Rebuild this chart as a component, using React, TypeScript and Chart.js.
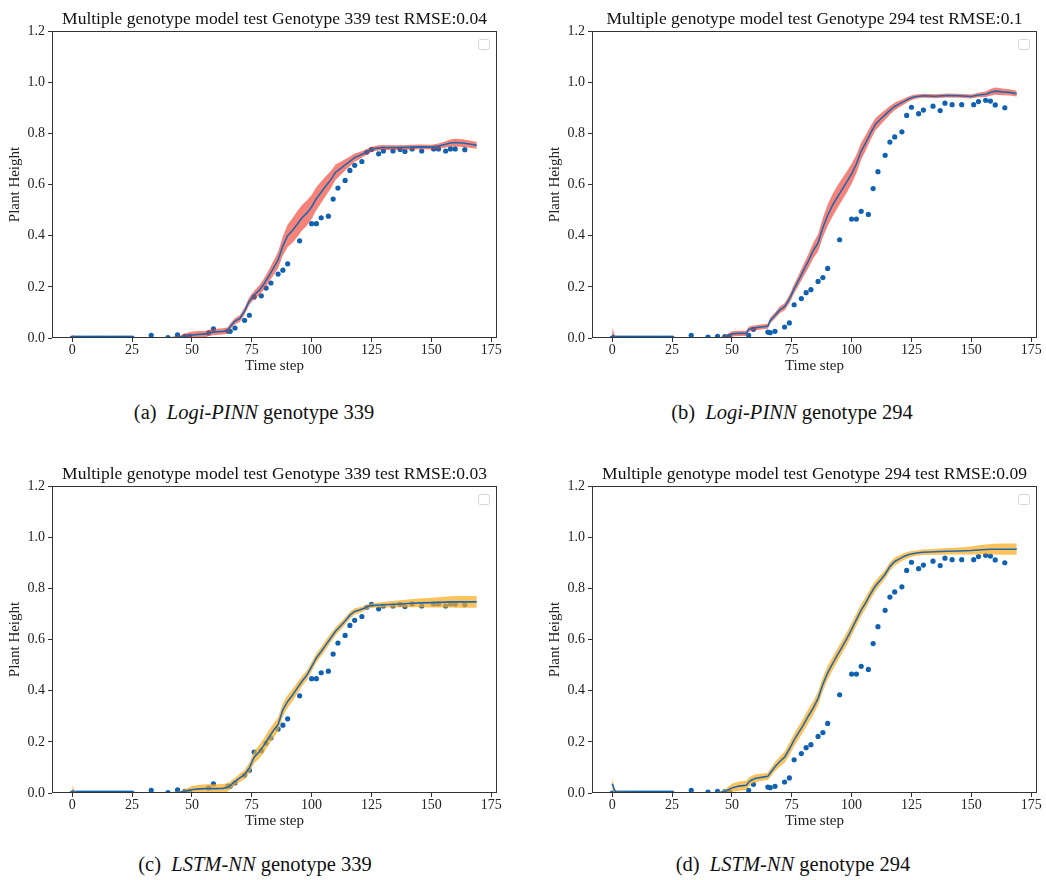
import React, { useEffect, useRef } from 'react';
import { Chart, registerables } from 'chart.js';

Chart.register(...registerables);
Chart.defaults.font.family = '"Liberation Serif", "Times New Roman", serif';
Chart.defaults.color = '#222';

// ---------- axis ticks ----------
const X_TICKS = [0, 25, 50, 75, 100, 125, 150, 175];
const Y_TICKS = [0, 0.2, 0.4, 0.6, 0.8, 1.0, 1.2];
const X_MIN = -8.45;
const X_MAX = 177.45;
const Y_MIN = 0;
const Y_MAX = 1.2;

// ---------- model predictions (time steps) ----------
const PRED_T = [0, 1, 2, 40, 45, 47, 50, 53, 56, 57, 58, 60, 63, 65, 66, 68, 70, 72, 74, 76, 78, 80, 82, 84, 86, 88, 90, 92, 94, 96, 98, 100, 102, 104, 106, 108, 110, 112, 114, 116, 118, 120, 122, 124, 126, 128, 130, 135, 140, 145, 150, 153, 156, 158, 160, 163, 166, 169];

const PINN_339_MEAN = [0.005, 0.001, 0, 0, 0.004, 0.008, 0.012, 0.014, 0.016, 0.02, 0.022, 0.024, 0.026, 0.03, 0.045, 0.066, 0.076, 0.105, 0.145, 0.168, 0.185, 0.21, 0.24, 0.272, 0.305, 0.36, 0.4, 0.42, 0.445, 0.47, 0.488, 0.512, 0.545, 0.57, 0.595, 0.618, 0.648, 0.662, 0.677, 0.69, 0.705, 0.713, 0.722, 0.733, 0.74, 0.743, 0.744, 0.744, 0.745, 0.747, 0.746, 0.75, 0.757, 0.762, 0.764, 0.762, 0.758, 0.753];
const PINN_339_SPREAD = [0.01, 0.004, 0.001, 0.001, 0.006, 0.01, 0.013, 0.013, 0.012, 0.012, 0.012, 0.012, 0.012, 0.012, 0.012, 0.012, 0.013, 0.014, 0.015, 0.017, 0.019, 0.021, 0.024, 0.028, 0.032, 0.038, 0.044, 0.048, 0.05, 0.05, 0.049, 0.047, 0.045, 0.042, 0.038, 0.034, 0.03, 0.026, 0.022, 0.019, 0.016, 0.014, 0.012, 0.011, 0.01, 0.01, 0.01, 0.009, 0.009, 0.009, 0.009, 0.01, 0.012, 0.014, 0.015, 0.015, 0.014, 0.013];

const PINN_294_MEAN = [0.012, 0.003, 0, 0, 0, 0.004, 0.016, 0.018, 0.018, 0.034, 0.037, 0.04, 0.044, 0.046, 0.068, 0.088, 0.11, 0.122, 0.152, 0.192, 0.228, 0.265, 0.302, 0.342, 0.372, 0.432, 0.48, 0.518, 0.55, 0.58, 0.61, 0.642, 0.68, 0.73, 0.765, 0.803, 0.836, 0.855, 0.872, 0.89, 0.905, 0.915, 0.925, 0.935, 0.942, 0.945, 0.947, 0.945, 0.948, 0.947, 0.944, 0.95, 0.953, 0.96, 0.965, 0.962, 0.96, 0.955];
const PINN_294_SPREAD = [0.03, 0.01, 0.002, 0.001, 0.002, 0.006, 0.01, 0.01, 0.01, 0.01, 0.01, 0.01, 0.01, 0.01, 0.011, 0.012, 0.013, 0.014, 0.016, 0.018, 0.021, 0.024, 0.027, 0.03, 0.034, 0.038, 0.042, 0.044, 0.044, 0.043, 0.041, 0.039, 0.036, 0.033, 0.03, 0.027, 0.024, 0.022, 0.019, 0.017, 0.015, 0.013, 0.011, 0.01, 0.009, 0.008, 0.008, 0.008, 0.008, 0.008, 0.008, 0.009, 0.011, 0.013, 0.014, 0.013, 0.012, 0.011];

const LSTM_339_MEAN = [0.01, 0.003, 0, 0, 0.003, 0.007, 0.013, 0.016, 0.017, 0.017, 0.017, 0.017, 0.018, 0.022, 0.03, 0.045, 0.059, 0.072, 0.098, 0.14, 0.16, 0.185, 0.215, 0.243, 0.268, 0.325, 0.358, 0.382, 0.41, 0.437, 0.46, 0.494, 0.528, 0.553, 0.58, 0.606, 0.632, 0.652, 0.672, 0.695, 0.71, 0.715, 0.722, 0.731, 0.733, 0.735, 0.736, 0.738, 0.741, 0.743, 0.744, 0.745, 0.746, 0.747, 0.747, 0.747, 0.747, 0.747];
const LSTM_339_SPREAD = [0.02, 0.008, 0.002, 0.001, 0.004, 0.008, 0.014, 0.016, 0.017, 0.017, 0.017, 0.017, 0.017, 0.016, 0.015, 0.015, 0.016, 0.018, 0.02, 0.024, 0.026, 0.028, 0.028, 0.028, 0.028, 0.027, 0.025, 0.024, 0.022, 0.02, 0.019, 0.018, 0.018, 0.018, 0.018, 0.017, 0.016, 0.015, 0.014, 0.013, 0.012, 0.011, 0.01, 0.009, 0.009, 0.01, 0.011, 0.013, 0.015, 0.017, 0.019, 0.02, 0.021, 0.022, 0.023, 0.023, 0.023, 0.023];

const LSTM_294_MEAN = [0.036, 0.01, 0.002, 0, 0.002, 0.006, 0.02, 0.027, 0.03, 0.042, 0.05, 0.058, 0.062, 0.065, 0.078, 0.103, 0.123, 0.14, 0.172, 0.208, 0.238, 0.268, 0.302, 0.333, 0.37, 0.425, 0.47, 0.505, 0.538, 0.57, 0.603, 0.64, 0.678, 0.715, 0.745, 0.78, 0.81, 0.832, 0.855, 0.885, 0.905, 0.915, 0.925, 0.932, 0.936, 0.939, 0.941, 0.943, 0.945, 0.946, 0.948, 0.95, 0.952, 0.953, 0.953, 0.953, 0.953, 0.953];
const LSTM_294_SPREAD = [0.025, 0.01, 0.003, 0.001, 0.004, 0.008, 0.016, 0.018, 0.018, 0.017, 0.016, 0.015, 0.014, 0.014, 0.016, 0.018, 0.02, 0.022, 0.024, 0.025, 0.026, 0.027, 0.027, 0.027, 0.027, 0.027, 0.027, 0.026, 0.026, 0.025, 0.025, 0.025, 0.024, 0.024, 0.023, 0.022, 0.02, 0.019, 0.018, 0.017, 0.016, 0.014, 0.013, 0.012, 0.011, 0.011, 0.011, 0.012, 0.013, 0.014, 0.016, 0.018, 0.019, 0.02, 0.021, 0.022, 0.022, 0.022];

// ---------- observed plant heights ----------
const OBS_T = [0, 1, 2, 3, 4, 5, 6, 7, 8, 9, 10, 11, 12, 13, 14, 15, 16, 17, 18, 19, 20, 21, 22, 23, 24, 25, 33, 40, 44, 47, 49, 57, 59, 65, 66, 68, 72, 74, 76, 79, 81, 83, 86, 88, 90, 95, 100, 102, 104, 107, 109, 111, 114, 116, 118, 121, 123, 125, 128, 130, 134, 137, 139, 142, 146, 151, 153, 156, 158, 160, 164];
const OBS_339 = [0, 0, 0, 0, 0, 0, 0, 0, 0, 0, 0, 0, 0, 0, 0, 0, 0, 0, 0, 0, 0, 0, 0, 0, 0, 0, 0.01, 0.002, 0.012, 0.006, 0.006, 0.02, 0.036, 0.027, 0.026, 0.039, 0.069, 0.089, 0.16, 0.165, 0.195, 0.215, 0.25, 0.265, 0.29, 0.38, 0.447, 0.447, 0.47, 0.476, 0.543, 0.586, 0.616, 0.655, 0.675, 0.69, 0.726, 0.737, 0.72, 0.731, 0.731, 0.737, 0.729, 0.739, 0.731, 0.739, 0.739, 0.731, 0.739, 0.739, 0.736];
const OBS_294 = [0, 0, 0, 0, 0, 0, 0, 0, 0, 0, 0, 0, 0, 0, 0, 0, 0, 0, 0, 0, 0, 0, 0, 0, 0, 0, 0.01, 0.004, 0.006, 0.005, 0.006, 0.01, 0.034, 0.023, 0.021, 0.026, 0.043, 0.059, 0.13, 0.154, 0.177, 0.189, 0.221, 0.236, 0.272, 0.384, 0.465, 0.465, 0.495, 0.483, 0.584, 0.65, 0.714, 0.766, 0.786, 0.806, 0.87, 0.902, 0.877, 0.891, 0.906, 0.889, 0.918, 0.912, 0.912, 0.912, 0.924, 0.929, 0.926, 0.911, 0.9];

// ---------- text ----------
const TITLES = [
  'Multiple genotype model test Genotype 339 test RMSE:0.04',
  'Multiple genotype model test Genotype 294 test RMSE:0.1',
  'Multiple genotype model test Genotype 339 test RMSE:0.03',
  'Multiple genotype model test Genotype 294 test RMSE:0.09',
];
const CAPTION_LABELS = ['(a)', '(b)', '(c)', '(d)'];
const CAPTION_MODELS = ['Logi-PINN', 'Logi-PINN', 'LSTM-NN', 'LSTM-NN'];
const CAPTION_GENOTYPES = ['genotype 339', 'genotype 294', 'genotype 339', 'genotype 294'];
const X_LABEL = 'Time step';
const Y_LABEL = 'Plant Height';

const RED_BAND = 'rgba(240, 55, 40, 0.62)';
const ORANGE_BAND = 'rgba(250, 170, 30, 0.72)';
const LINE_COLOR = '#1f68ad';
const DOT_COLOR = '#1061b0';

const PANELS = [
  { title: TITLES[0], mean: PINN_339_MEAN, spread: PINN_339_SPREAD, obs: OBS_339, band: RED_BAND, left: 0, top: 0 },
  { title: TITLES[1], mean: PINN_294_MEAN, spread: PINN_294_SPREAD, obs: OBS_294, band: RED_BAND, left: 540, top: 0 },
  { title: TITLES[2], mean: LSTM_339_MEAN, spread: LSTM_339_SPREAD, obs: OBS_339, band: ORANGE_BAND, left: 0, top: 455 },
  { title: TITLES[3], mean: LSTM_294_MEAN, spread: LSTM_294_SPREAD, obs: OBS_294, band: ORANGE_BAND, left: 540, top: 455 },
];

const CAPTION_POS = [
  { cx: 254, cy: 412 },
  { cx: 792, cy: 412 },
  { cx: 255, cy: 864 },
  { cx: 793, cy: 864 },
];

const decorPlugin = {
  id: 'decor',
  afterDraw(chart: any, _args: any, opts: any) {
    const { ctx, chartArea: a } = chart;
    ctx.save();
    // frame (all four spines)
    ctx.strokeStyle = '#333';
    ctx.lineWidth = 1;
    ctx.strokeRect(a.left + 0.5, a.top + 0.5, a.right - a.left - 1, a.bottom - a.top - 1);
    // empty legend box
    const bx = a.right - 18.5;
    const by = a.top + 8.5;
    ctx.beginPath();
    ctx.roundRect(bx, by, 11, 10, 2);
    ctx.fillStyle = '#fff';
    ctx.fill();
    ctx.strokeStyle = '#d6d6d6';
    ctx.stroke();
    // title
    ctx.fillStyle = '#111';
    ctx.font = '17.5px "Liberation Serif", "Times New Roman", serif';
    ctx.textAlign = 'center';
    ctx.textBaseline = 'middle';
    ctx.fillText(opts.text, (a.left + a.right) / 2, a.top - 12);
    ctx.restore();
  },
};

function PanelChart({ panel }: { panel: any }) {
  const ref = useRef<HTMLCanvasElement>(null);
  useEffect(() => {
    if (!ref.current) return;
    const meanPts = PRED_T.map((t, i) => ({ x: t, y: panel.mean[i] }));
    const upperPts = PRED_T.map((t, i) => ({ x: t, y: panel.mean[i] + panel.spread[i] }));
    const lowerPts = PRED_T.map((t, i) => ({ x: t, y: panel.mean[i] - panel.spread[i] }));
    const obsPts = OBS_T.map((t, i) => ({ x: t, y: panel.obs[i] }));
    const tickFont = { size: 14 };
    const labelFont = { size: 15 };
    const chart = new Chart(ref.current, {
      type: 'line',
      data: {
        datasets: [
          {
            label: 'prediction',
            data: meanPts,
            borderColor: LINE_COLOR,
            borderWidth: 1.6,
            pointRadius: 0,
            tension: 0,
            fill: false,
            order: 0,
          },
          {
            label: 'upper',
            data: upperPts,
            borderWidth: 0,
            borderColor: 'rgba(0,0,0,0)',
            pointRadius: 0,
            tension: 0,
            backgroundColor: panel.band,
            fill: '+1',
            order: 1,
          },
          {
            label: 'lower',
            data: lowerPts,
            borderWidth: 0,
            borderColor: 'rgba(0,0,0,0)',
            pointRadius: 0,
            tension: 0,
            fill: false,
            order: 2,
          },
          {
            label: 'observed',
            data: obsPts,
            showLine: false,
            pointRadius: 2.6,
            pointBorderWidth: 0,
            pointBackgroundColor: DOT_COLOR,
            pointBorderColor: DOT_COLOR,
            clip: 0,
            order: 3,
          },
        ],
      },
      options: {
        responsive: false,
        animation: false,
        events: [],
        layout: { padding: { top: 31, right: 9, left: 0, bottom: 0 } },
        plugins: {
          legend: { display: false },
          tooltip: { enabled: false },
          decor: { text: panel.title },
        } as any,
        scales: {
          x: {
            type: 'linear',
            min: X_MIN,
            max: X_MAX,
            afterBuildTicks: (s: any) => {
              s.ticks = X_TICKS.map((v) => ({ value: v }));
            },
            afterFit: (s: any) => {
              s.height = 42;
            },
            ticks: {
              font: tickFont,
              color: '#222',
              padding: 0,
              maxRotation: 0,
              autoSkip: false,
              callback: (v: any) => String(v),
            },
            grid: { drawOnChartArea: false, drawTicks: true, tickLength: 4, color: '#333' },
            border: { display: false },
            title: { display: true, text: X_LABEL, font: labelFont, color: '#222', padding: { top: 0, bottom: 5 } },
          },
          y: {
            type: 'linear',
            min: Y_MIN,
            max: Y_MAX,
            afterBuildTicks: (s: any) => {
              s.ticks = Y_TICKS.map((v) => ({ value: v }));
            },
            afterFit: (s: any) => {
              s.width = 52;
            },
            ticks: {
              font: tickFont,
              color: '#222',
              padding: 3,
              callback: (v: any) => Number(v).toFixed(1),
            },
            grid: { drawOnChartArea: false, drawTicks: true, tickLength: 4, color: '#333' },
            border: { display: false },
            title: { display: true, text: Y_LABEL, font: labelFont, color: '#222', padding: { top: 6, bottom: 0 } },
          },
        },
      },
      plugins: [decorPlugin],
    } as any);
    return () => chart.destroy();
  }, [panel]);
  return (
    <canvas
      ref={ref}
      width={506}
      height={380}
      style={{ position: 'absolute', left: panel.left, top: panel.top, width: 506, height: 380 }}
    />
  );
}

export default function App() {
  return (
    <div
      style={{
        position: 'absolute',
        left: 0,
        top: 0,
        width: 1046,
        height: 880,
        background: '#fff',
        overflow: 'hidden',
      }}
    >
      {PANELS.map((p, i) => (
        <PanelChart key={i} panel={p} />
      ))}
      {CAPTION_POS.map((c, i) => (
        <div
          key={'cap' + i}
          style={{
            position: 'absolute',
            left: c.cx - 200,
            top: c.cy - 12,
            width: 400,
            textAlign: 'center',
            fontFamily: '"Liberation Serif", "Times New Roman", serif',
            fontSize: 20.5,
            lineHeight: '24px',
            color: '#111',
            whiteSpace: 'nowrap',
          }}
        >
          {CAPTION_LABELS[i]}
          {'\u2002'}
          <i>{CAPTION_MODELS[i]}</i> {CAPTION_GENOTYPES[i]}
        </div>
      ))}
    </div>
  );
}
